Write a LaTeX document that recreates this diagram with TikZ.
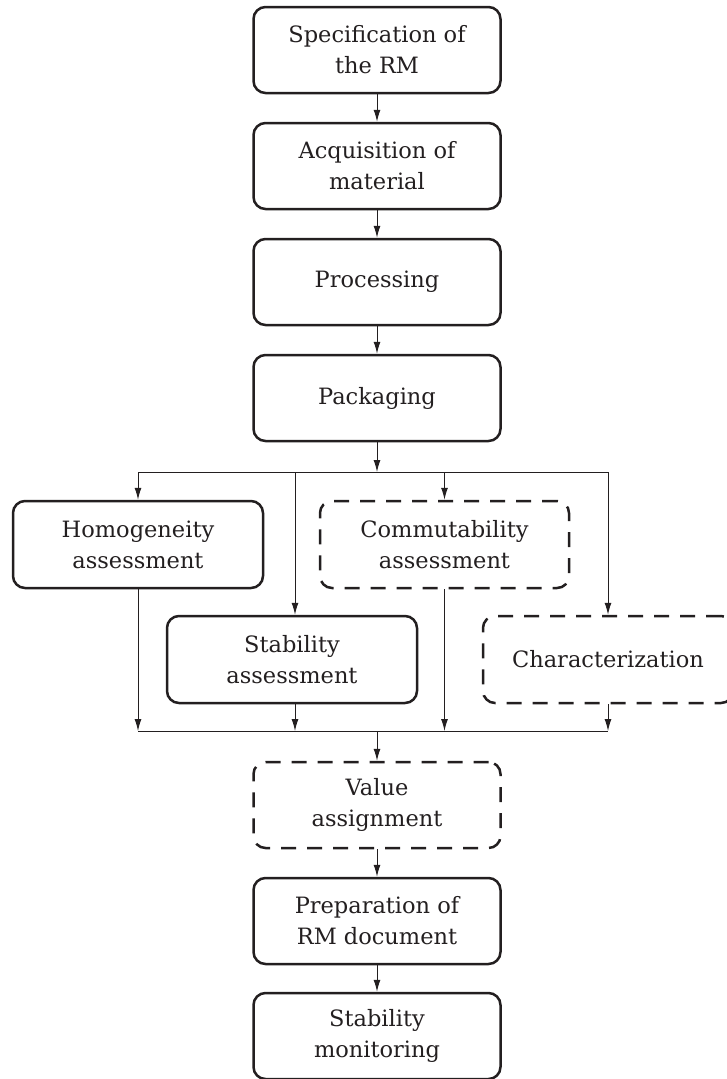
\documentclass[tikz,border=0pt]{standalone}
\usepackage{fontspec}
\setmainfont{DejaVu Serif}
\usetikzlibrary{arrows.meta}
\definecolor{ink}{HTML}{231F20}
\tikzset{
  box/.style={draw=ink, line width=2.5pt, rounded corners=12pt, minimum height=86pt,
    minimum width=247pt, align=center, inner sep=0pt, text=ink,
    font=\fontsize{22.5}{31}\selectfont},
  dbox/.style={box, dash pattern=on 15pt off 11pt},
  conn/.style={draw=ink, line width=1pt},
  arr/.style={conn, -{Latex[length=12pt,width=7pt]}}
}
\begin{document}
\begin{tikzpicture}[x=1pt,y=-1pt]
\useasboundingbox (0,0) rectangle (726,1079);
% main column
\node[box] (spec) at (377,50) {Specification of\\the RM};
\node[box] (acq) at (377,166) {Acquisition of\\material};
\node[box] (proc) at (377,282) {Processing};
\node[box] (pack) at (377,398) {Packaging};
% parallel
\node[box, minimum width=250pt, minimum height=87pt] (homo) at (138,544.5) {Homogeneity\\assessment};
\node[dbox, minimum width=249pt, minimum height=87pt] (comm) at (444.5,544.5) {Commutability\\assessment};
\node[box, minimum width=250pt, minimum height=87pt] (stab) at (292,659.5) {Stability\\assessment};
\node[dbox, minimum width=250pt, minimum height=87pt] (char) at (608,659.5) {Characterization};
% bottom column
\node[dbox] (value) at (377,805) {Value\\assignment};
\node[box] (prep) at (377,921) {Preparation of\\RM document};
\node[box] (mon) at (377,1036) {Stability\\monitoring};
% coordinates
\coordinate (sM) at (377,472);
\coordinate (sL) at (138,472);
\coordinate (sS) at (295,472);
\coordinate (sR) at (608,472);
\coordinate (mM) at (377,731);
\coordinate (mL) at (138,731);
\coordinate (mS) at (295,731);
\coordinate (mC) at (444.5,731);
\coordinate (mR) at (608,731);
% connectors
\draw[arr] (spec) -- (acq);
\draw[arr] (acq) -- (proc);
\draw[arr] (proc) -- (pack);
\draw[arr] (pack) -- (sM);
\draw[conn] (sL) -- (sR);
\draw[arr] (sL) -- (homo.north);
\draw[arr] (sS) -- (sS |- stab.north);
\draw[arr] (comm.north |- sM) -- (comm.north);
\draw[arr] (sR) -- (char.north);
\draw[arr] (homo.south) -- (mL);
\draw[arr] (mS |- stab.south) -- (mS);
\draw[arr] (comm.south) -- (mC);
\draw[arr] (char.south) -- (mR);
\draw[conn] (mL) -- (mR);
\draw[arr] (mM) -- (value);
\draw[arr] (value) -- (prep);
\draw[arr] (prep) -- (mon);
\end{tikzpicture}
\end{document}
